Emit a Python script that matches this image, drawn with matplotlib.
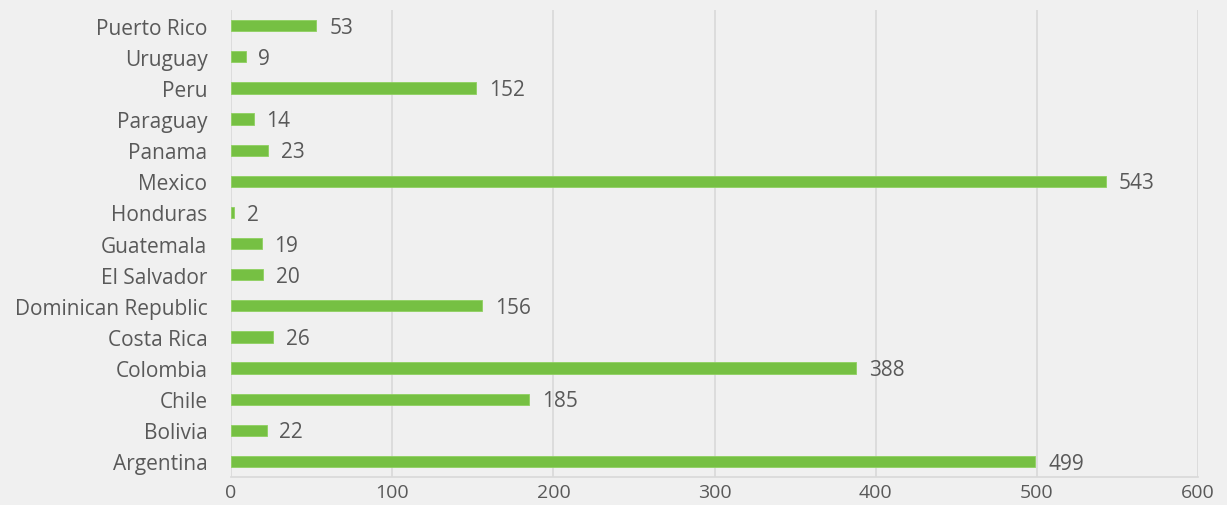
import matplotlib.pyplot as plt

countries = ['Argentina', 'Bolivia', 'Chile', 'Colombia', 'Costa Rica',
             'Dominican Republic', 'El Salvador', 'Guatemala', 'Honduras',
             'Mexico', 'Panama', 'Paraguay', 'Peru', 'Uruguay', 'Puerto Rico']
values = [499, 22, 185, 388, 26, 156, 20, 19, 2, 543, 23, 14, 152, 9, 53]
xticks = [0, 100, 200, 300, 400, 500, 600]

BG = '#f0f0f0'
GREEN = '#76c043'
TEXT = '#595959'

plt.rcParams['font.family'] = ['Open Sans', 'DejaVu Sans']

fig = plt.figure(figsize=(12.27, 5.06), dpi=100, facecolor=BG)
ax = fig.add_axes([0.1883, 0.0553, 0.7881, 0.9227], facecolor=BG)

ypos = list(range(len(countries)))
ax.barh(ypos, values, height=0.36, color=GREEN, edgecolor='#8fd060',
        linewidth=0.6, zorder=3)

# ... value labels right of each bar ...
for y, v in zip(ypos, values):
    ax.text(v + 8, y - 0.05, str(v), va='center', ha='left', fontsize=15,
            color=TEXT, zorder=4)

ax.set_xlim(0, 600)
ax.set_ylim(-0.5, len(countries) - 0.5)
ax.set_xticks(xticks)
ax.set_xticklabels([str(t) for t in xticks])
ax.set_yticks(ypos)
ax.set_yticklabels(countries)

ax.tick_params(axis='both', length=0, colors=TEXT)
ax.tick_params(axis='y', pad=17, labelsize=15)
ax.tick_params(axis='x', pad=4, labelsize=14)

ax.grid(axis='x', color='#d9d9d9', linewidth=1.2, zorder=0)
for s in ['top', 'right', 'left']:
    ax.spines[s].set_visible(False)
ax.spines['bottom'].set_color('#d9d9d9')
ax.spines['bottom'].set_linewidth(1.2)

fig.savefig('out.png', dpi=100, facecolor=BG)
